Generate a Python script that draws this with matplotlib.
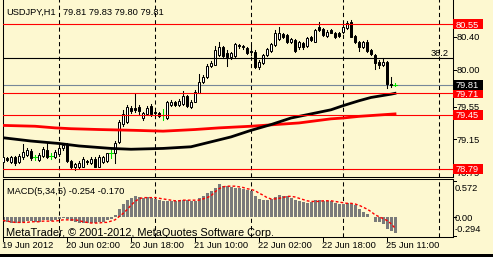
import numpy as np
import matplotlib
matplotlib.use('Agg')
import matplotlib.pyplot as plt
import matplotlib.transforms as mtransforms
from matplotlib.patches import Rectangle

plt.rcParams['font.family'] = ['Liberation Sans', 'DejaVu Sans']
plt.rcParams['font.size'] = 6.7

BG = '#fdf8d0'
DOJI = '#00e000'
W, H = 493, 257

# =============================================================================
# Donnees (USDJPY H1, 19-25 Jun 2012)
# =============================================================================
opens = [78.87, 78.92, 78.88, 78.93, 78.88, 78.93, 78.96, 79.01, 78.93, 78.90,
         78.95, 79.02, 78.95, 78.93, 78.97, 79.04, 79.09, 78.89, 78.81, 78.82,
         78.82, 78.89, 78.86, 78.91, 78.82, 78.87, 78.89, 78.98, 78.98, 79.12,
         79.34, 79.36, 79.53, 79.53, 79.55, 79.41, 79.46, 79.56, 79.48, 79.47,
         79.45, 79.41, 79.57, 79.60, 79.57, 79.58, 79.68, 79.55, 79.61, 79.72,
         79.85, 79.91, 80.04, 80.06, 80.18, 80.27, 80.20, 80.15, 80.16, 80.30,
         80.29, 80.26, 80.22, 80.21, 80.03, 80.08, 80.18, 80.23, 80.30, 80.37,
         80.43, 80.42, 80.33, 80.36, 80.27, 80.32, 80.29, 80.39, 80.34, 80.52,
         80.49, 80.41, 80.48, 80.44, 80.44, 80.46, 80.50, 80.58, 80.41, 80.33,
         80.27, 80.34, 80.24, 80.18, 80.09, 80.06, 80.09, 79.82, 79.81]
highs = [78.96, 78.94, 78.95, 78.95, 78.97, 79.09, 79.04, 79.03, 78.96, 78.98,
         79.06, 79.10, 78.98, 79.02, 79.07, 79.10, 79.11, 78.90, 78.86, 78.89,
         78.94, 78.90, 78.94, 78.94, 78.96, 78.95, 78.99, 79.05, 79.13, 79.39,
         79.51, 79.57, 79.56, 79.70, 79.57, 79.48, 79.56, 79.58, 79.50, 79.48,
         79.52, 79.62, 79.63, 79.62, 79.64, 79.74, 79.69, 79.63, 79.75, 79.95,
         79.93, 80.07, 80.10, 80.29, 80.33, 80.29, 80.24, 80.21, 80.32, 80.31,
         80.30, 80.27, 80.30, 80.24, 80.12, 80.19, 80.26, 80.32, 80.48, 80.52,
         80.44, 80.43, 80.38, 80.37, 80.35, 80.33, 80.40, 80.41, 80.49, 80.58,
         80.51, 80.48, 80.49, 80.46, 80.46, 80.54, 80.59, 80.60, 80.42, 80.35,
         80.35, 80.36, 80.25, 80.19, 80.12, 80.14, 80.10, 79.91, 79.83]
lows = [78.85, 78.89, 78.86, 78.84, 78.86, 78.91, 78.95, 78.90, 78.90, 78.89,
        78.94, 78.92, 78.91, 78.92, 78.95, 79.02, 78.87, 78.80, 78.78, 78.80,
        78.81, 78.85, 78.85, 78.81, 78.81, 78.86, 78.87, 78.92, 78.86, 79.11,
        79.31, 79.35, 79.47, 79.48, 79.46, 79.39, 79.45, 79.44, 79.44, 79.42,
        79.38, 79.40, 79.56, 79.56, 79.56, 79.57, 79.54, 79.53, 79.60, 79.71,
        79.84, 79.90, 80.03, 80.05, 80.16, 80.14, 80.04, 80.13, 80.15, 80.26,
        80.25, 80.19, 80.18, 80.02, 80.01, 80.07, 80.17, 80.21, 80.29, 80.36,
        80.38, 80.32, 80.32, 80.21, 80.25, 80.25, 80.27, 80.35, 80.33, 80.47,
        80.41, 80.40, 80.44, 80.38, 80.40, 80.44, 80.49, 80.40, 80.32, 80.22,
        80.26, 80.21, 80.18, 80.01, 80.02, 80.04, 79.77, 79.79, 79.80]
closes = [78.94, 78.90, 78.93, 78.86, 78.95, 79.00, 79.02, 78.92, 78.93, 78.96,
          79.03, 78.94, 78.95, 79.00, 79.05, 79.08, 78.89, 78.82, 78.85, 78.86,
          78.91, 78.88, 78.91, 78.82, 78.94, 78.93, 78.98, 78.98, 79.10, 79.36,
          79.46, 79.54, 79.50, 79.51, 79.49, 79.47, 79.53, 79.46, 79.47, 79.44,
          79.45, 79.60, 79.61, 79.57, 79.62, 79.68, 79.56, 79.61, 79.73, 79.85,
          79.91, 80.04, 80.08, 80.24, 80.27, 80.16, 80.15, 80.20, 80.31, 80.28,
          80.27, 80.20, 80.21, 80.03, 80.09, 80.18, 80.25, 80.31, 80.44, 80.44,
          80.40, 80.34, 80.37, 80.23, 80.33, 80.27, 80.38, 80.36, 80.48, 80.48,
          80.42, 80.46, 80.45, 80.40, 80.41, 80.52, 80.56, 80.40, 80.33, 80.27,
          80.33, 80.22, 80.19, 80.08, 80.06, 80.09, 79.82, 79.81, 79.81]

# Moyennes mobiles
black_ma_idx = [0, 7, 14, 19, 27, 32, 40, 47, 52, 57, 62, 67, 72, 77, 82, 85, 89, 92, 97, 98]
black_ma_val = [79.17, 79.13, 79.10, 79.07, 79.04, 79.03, 79.04, 79.06, 79.12, 79.18,
                79.26, 79.33, 79.41, 79.46, 79.51, 79.56, 79.62, 79.66, 79.70, 79.71]
red_ma_idx = [0, 8, 13, 17, 24, 33, 40, 48, 54, 62, 68, 74, 82, 85, 89, 98]
red_ma_val = [79.32, 79.31, 79.29, 79.28, 79.27, 79.26, 79.25, 79.27, 79.29, 79.31,
              79.33, 79.35, 79.40, 79.41, 79.43, 79.46]

# MACD(5,34,5)
macd = [-0.08, -0.08, -0.09, -0.09, -0.09, -0.07, -0.06, -0.06, -0.07, -0.07,
        -0.05, -0.05, -0.06, -0.05, -0.03, -0.01, -0.03, -0.06, -0.08, -0.09,
        -0.09, -0.09, -0.09, -0.09, -0.08, -0.07, -0.05, -0.03, 0.04, 0.13,
        0.21, 0.27, 0.30, 0.34, 0.32, 0.31, 0.32, 0.30, 0.29, 0.28,
        0.26, 0.26, 0.26, 0.26, 0.27, 0.28, 0.27, 0.26, 0.26, 0.30,
        0.34, 0.38, 0.41, 0.46, 0.52, 0.50, 0.49, 0.48, 0.46, 0.46,
        0.45, 0.43, 0.41, 0.33, 0.29, 0.27, 0.27, 0.29, 0.32, 0.35,
        0.34, 0.33, 0.31, 0.27, 0.26, 0.24, 0.23, 0.24, 0.27, 0.27,
        0.26, 0.26, 0.25, 0.23, 0.21, 0.21, 0.22, 0.21, 0.19, 0.13,
        0.09, 0.05, 0.01, -0.07, -0.08, -0.10, -0.18, -0.21, -0.254]
signal = [-0.05, -0.06, -0.07, -0.08, -0.08, -0.08, -0.08, -0.07, -0.07, -0.07,
          -0.06, -0.06, -0.06, -0.06, -0.05, -0.04, -0.04, -0.04, -0.04, -0.05,
          -0.07, -0.08, -0.09, -0.09, -0.09, -0.08, -0.08, -0.06, -0.04, 0.01,
          0.06, 0.12, 0.19, 0.25, 0.29, 0.31, 0.31, 0.31, 0.31, 0.30,
          0.29, 0.28, 0.27, 0.26, 0.26, 0.27, 0.27, 0.27, 0.27, 0.27,
          0.29, 0.31, 0.34, 0.40, 0.45, 0.48, 0.49, 0.49, 0.49, 0.48,
          0.47, 0.45, 0.44, 0.42, 0.38, 0.35, 0.31, 0.29, 0.29, 0.30,
          0.31, 0.33, 0.33, 0.32, 0.30, 0.28, 0.26, 0.25, 0.25, 0.25,
          0.26, 0.26, 0.26, 0.25, 0.24, 0.23, 0.22, 0.22, 0.21, 0.19,
          0.16, 0.13, 0.09, 0.04, 0.01, -0.02, -0.05, -0.10, -0.17]

# Lignes horizontales / niveaux
red_levels = [80.55, 79.71, 79.45, 78.79]
fib_level = 80.14
fib_label = '38.2'
bid = 79.81
price_labels = [80.40, 80.00, 79.55, 79.15, 78.75]
macd_labels = [0.572, 0.00, -0.294]

# Axe du temps
time_ticks = [0, 16, 32, 48, 64, 80, 96]
time_labels = ['19 Jun 2012', '20 Jun 02:00', '20 Jun 18:00', '21 Jun 10:00',
               '22 Jun 02:00', '22 Jun 18:00', '25 Jun 11:00']
day_separators = [14, 38, 62, 85, 109]

# =============================================================================
# Figure
# =============================================================================
fig = plt.figure(figsize=(W / 100, H / 100), dpi=100, facecolor=BG)


def fx(px):
    return px / W


def fy(py):
    return 1 - py / H


def off(tr, dx=0, dy=0):
    return mtransforms.offset_copy(tr, fig=fig, x=dx, y=dy, units='dots')


ax = fig.add_axes([fx(2.5), fy(176.5), fx(450), 177.5 / H])
axm = fig.add_axes([fx(2.5), fy(236.5), fx(450), 58 / H])

ppx = 0.012165  # prix par pixel
ax.set_xlim(-0.125, 112.375)
ax.set_ylim(80.8578 - 177.5 * ppx, 80.8578)
axm.set_xlim(-0.125, 112.375)
axm.set_ylim(-0.302, 0.611)

for a in (ax, axm):
    a.set_facecolor(BG)
    a.set_xticks([])
    a.set_yticks([])
    for s in a.spines.values():
        s.set_linewidth(0.75)
        s.set_color('black')
ax.spines['top'].set_visible(False)

# Bougies
for i, (o, h, l, c) in enumerate(zip(opens, highs, lows, closes)):
    if o == c:
        ax.plot([i, i], [l, h], color=DOJI, lw=0.75, zorder=3)
        ax.plot([i - 0.4, i + 0.4], [o, o], color=DOJI, lw=0.75, zorder=3)
        continue
    ax.plot([i, i], [l, h], color='black', lw=0.75, zorder=3)
    fc = 'white' if c > o else 'black'
    ax.add_patch(Rectangle((i - 0.28, min(o, c)), 0.56, abs(c - o),
                           facecolor=fc, edgecolor='black', lw=0.72, zorder=4))

# Moyennes mobiles
ax.plot(red_ma_idx, red_ma_val, color='#ff0000', lw=2.0, zorder=5)
ax.plot(black_ma_idx, black_ma_val, color='black', lw=2.0, zorder=5)

# Lignes horizontales
for lv in red_levels:
    ax.axhline(lv, color='#ff0000', lw=0.8, zorder=6)
ax.axhline(fib_level, color='black', lw=0.8, zorder=6)
ax.axhline(bid, color='#778899', lw=0.8, zorder=2)
ax.text(0.991, fib_level, fib_label, transform=off(ax.get_yaxis_transform(), 0, 1.6),
        ha='right', va='baseline')

# Separateurs de jours
for a in (ax, axm):
    for s in day_separators:
        a.axvline(s, color='black', lw=0.75, ls=(0, (4, 3)), zorder=1)

# Echelle de prix
ytr = ax.get_yaxis_transform()
for p in price_labels:
    ax.plot([1.0, 1.007], [p, p], transform=ytr, color='black', lw=0.72, clip_on=False)
    ax.text(1.0089, p, f'{p:.2f}', transform=off(ytr, 0, -3.3), ha='left',
            va='baseline', clip_on=False)
for p, col in [(lv, '#ff0000') for lv in red_levels] + [(bid, 'black')]:
    ax.add_patch(Rectangle((1.0018, p - 5 * ppx), 0.0667, 10 * ppx, transform=ytr,
                           facecolor=col, edgecolor='none', clip_on=False, zorder=10))
    ax.text(1.0067, p, f'{p:.2f}', transform=off(ytr, 0, -3.3), ha='left',
            va='baseline', color='white', clip_on=False, zorder=11)

# MACD
idx = np.arange(len(macd))
axm.bar(idx, macd, width=0.75, color='#7a7a7a', zorder=2)
axm.plot(idx, signal, color='#ff0000', lw=1.0, ls=(0, (2, 1.5)), zorder=3)
mtr = axm.get_yaxis_transform()
for v, dy in zip(macd_labels, [-9.7, -3.3, 3.7]):
    axm.plot([1.0, 1.007], [v, v], transform=mtr, color='black', lw=0.72, clip_on=False)
    txt = f'{v:.3f}' if v != 0 else '0.00'
    axm.text(1.0056, v, txt, transform=off(mtr, 0, dy), ha='left', va='baseline',
             clip_on=False)

# Axe du temps
xtr = axm.get_xaxis_transform()
for t, lab in zip(time_ticks, time_labels):
    axm.plot([t, t], [0, -4 / 58], transform=xtr, color='black', lw=0.72, clip_on=False)
    axm.text(t, 0, lab, transform=off(xtr, -1.5, -11.8), ha='left', va='baseline',
             clip_on=False)

# Textes
fig.text(fx(6.7), fy(15), 'USDJPY,H1', ha='left', va='baseline')
fig.text(fx(63), fy(15), '79.81 79.83 79.80 79.81', ha='left', va='baseline')
fig.text(fx(6.7), fy(193.5), 'MACD(5,34,5) -0.254 -0.170', ha='left', va='baseline')
fig.text(fx(6), fy(235.5), 'MetaTrader, \u00a9 2001-2012, MetaQuotes Software Corp.',
         ha='left', va='baseline', fontsize=7.9)

# Bande noire en bas
fig.add_artist(Rectangle((0, 0), 1, 3 / H, transform=fig.transFigure,
                         facecolor='black', edgecolor='none'))

fig.savefig('out.png', dpi=100, facecolor=BG)
